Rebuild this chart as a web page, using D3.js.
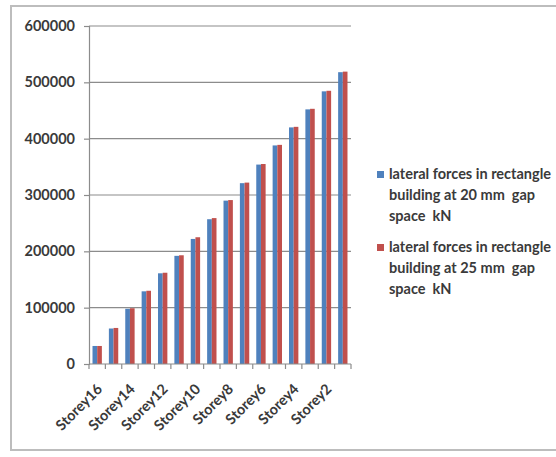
<!DOCTYPE html>
<html>
<head>
<meta charset="utf-8">
<script src="https://cdn.jsdelivr.net/npm/d3@7"></script>
<style>
  html, body { margin: 0; padding: 0; background: #fff; }
  svg { display: block; }
  text { font-family: Lato, "Open Sans", sans-serif; }
</style>
</head>
<body>
<svg id="chart" width="556" height="457"></svg>
<script>
// Storeys, top to bottom of the building
const storeys = ["Storey16","Storey15","Storey14","Storey13","Storey12","Storey11","Storey10","Storey9",
                 "Storey8","Storey7","Storey6","Storey5","Storey4","Storey3","Storey2","Storey1"];
// Lateral forces (kN) at 20 mm gap space
const gap20 = [32000, 63000, 98000, 129000, 161000, 192000, 222000, 257000,
               290000, 321000, 354000, 388000, 420000, 452000, 484000, 518000];
// Lateral forces (kN) at 25 mm gap space
const gap25 = [32000, 64000, 99000, 130000, 162000, 193000, 225000, 259000,
               291000, 322000, 355000, 389000, 421000, 453000, 485000, 519000];
const seriesNames = [
  ["lateral forces in rectangle", "building at 20 mm  gap", "space  kN"],
  ["lateral forces in rectangle", "building at 25 mm  gap", "space  kN"]
];
const colors = ["#4F81BD", "#C0504D"];
const yTicks = [0, 100000, 200000, 300000, 400000, 500000, 600000];

const svg = d3.select("#chart");

// outer chart frame
svg.append("rect")
  .attr("x", 11).attr("y", 6).attr("width", 560).attr("height", 444)
  .attr("fill", "none").attr("stroke", "#bdbdbd").attr("stroke-width", 2);

const plot = { left: 89, right: 351, top: 26, bottom: 364 };

const x = d3.scaleBand().domain(storeys).range([plot.left, plot.right]);
const inner = d3.scaleBand().domain([0, 1])
  .range([0, x.bandwidth()]).paddingInner(0).paddingOuter(0.75);
const y = d3.scaleLinear().domain([0, 600000]).range([plot.bottom, plot.top]);

// horizontal gridlines
svg.append("g").selectAll("line").data(yTicks.slice(1)).join("line")
  .attr("x1", plot.left).attr("x2", plot.right)
  .attr("y1", d => y(d)).attr("y2", d => y(d))
  .attr("stroke", "#8c8c8c").attr("stroke-width", 1.2);

// y axis
const yAxis = svg.append("g")
  .attr("transform", `translate(${plot.left},0)`)
  .call(d3.axisLeft(y).tickValues(yTicks).tickSize(5).tickPadding(9).tickFormat(d3.format("d")));
yAxis.select(".domain").attr("stroke", "#8c8c8c").attr("stroke-width", 1.2);
yAxis.selectAll(".tick line").attr("stroke", "#8c8c8c").attr("stroke-width", 1.2);
yAxis.selectAll(".tick text")
  .attr("fill", "#3a3a3a").style("font-size", "14.5px").style("font-weight", "700")
  .style("font-family", "Lato, sans-serif");

// bars
const data = [gap20, gap25];
data.forEach((vals, s) => {
  svg.append("g").selectAll("rect").data(vals).join("rect")
    .attr("x", (d, i) => x(storeys[i]) + inner(s))
    .attr("width", inner.bandwidth())
    .attr("y", d => y(d))
    .attr("height", d => y(0) - y(d))
    .attr("fill", colors[s]);
});

// x axis with ticks at category boundaries
const xAxisG = svg.append("g").attr("transform", `translate(0,${plot.bottom})`);
xAxisG.append("line")
  .attr("x1", plot.left).attr("x2", plot.right)
  .attr("stroke", "#8c8c8c").attr("stroke-width", 1.2);
const bounds = storeys.map(s => x(s)).concat([plot.right]);
xAxisG.selectAll(".tk").data(bounds).join("line")
  .attr("class", "tk")
  .attr("x1", d => d).attr("x2", d => d).attr("y1", 0).attr("y2", 5)
  .attr("stroke", "#8c8c8c").attr("stroke-width", 1.2);
xAxisG.selectAll("text").data(storeys.filter((d, i) => i % 2 === 0)).join("text")
  .attr("transform", d => `translate(${x(d) + x.bandwidth() / 2 + 6},${26}) rotate(-45)`)
  .attr("text-anchor", "end")
  .attr("fill", "#3a3a3a")
  .style("font-size", "14.5px").style("font-weight", "700")
  .text(d => d);

// legend
const legend = svg.append("g").attr("transform", "translate(377,0)");
const legendTop = [179, 252];
seriesNames.forEach((lines, s) => {
  const g = legend.append("g").attr("transform", `translate(0,${legendTop[s]})`);
  g.append("rect").attr("x", 0).attr("y", -8).attr("width", 7).attr("height", 7)
    .attr("fill", colors[s]);
  lines.forEach((t, k) => {
    g.append("text")
      .attr("x", 12).attr("y", k * 21)
      .attr("fill", "#3a3a3a")
      .style("white-space", "pre")
      .style("font-size", "14.5px").style("font-weight", "700")
      .text(t);
  });
});
</script>
</body>
</html>
